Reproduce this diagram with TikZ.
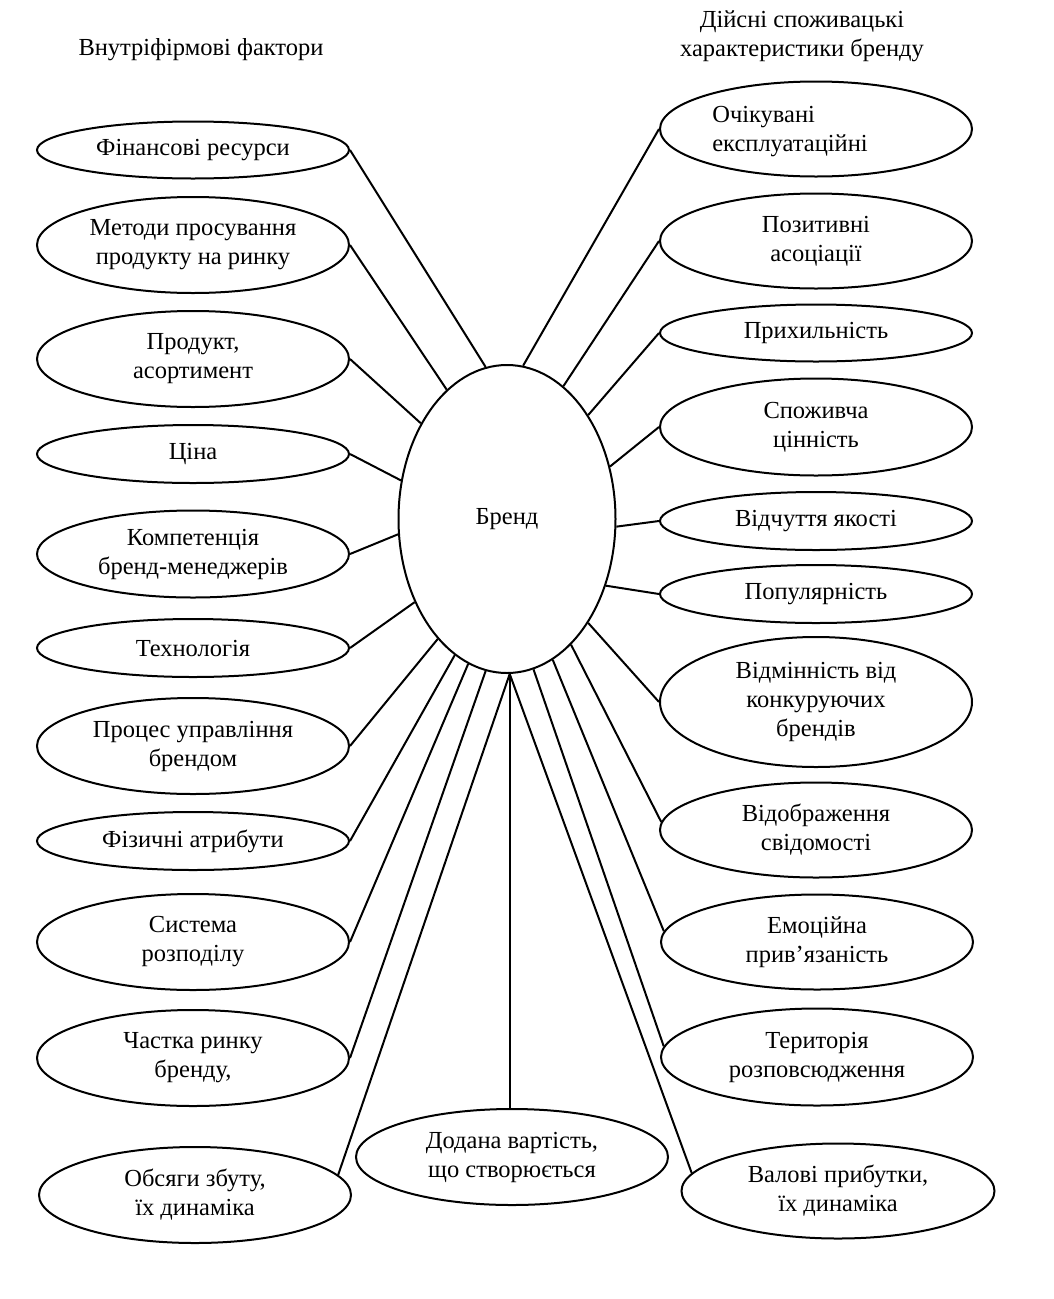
\documentclass[tikz,border=0pt]{standalone}
\usepackage{fontspec}
\setmainfont{Liberation Serif}
\usetikzlibrary{shapes.geometric}
\begin{document}
\begin{tikzpicture}[x=1pt,y=-1pt,
  every node/.style={font=\fontsize{24.5}{29}\selectfont},
  oval/.style={ellipse, draw, line width=2pt, inner sep=0pt, minimum width=312pt, align=center},
  conn/.style={line width=2pt}]
\useasboundingbox[fill=white] (0,0) rectangle (1053,1299);
% titles
\node (tl) at (201,50) {Внутріфірмові фактори};
\node[align=center] (tr) at (802,36) {Дійсні споживацькі\\характеристики бренду};
% centre
\node[ellipse, draw, line width=2pt, inner sep=0pt, minimum width=217pt, minimum height=308pt] (B) at (507,519) {Бренд};
% left ovals
\node[oval, minimum height=57pt] (fin) at (193,150) {Фінансові ресурси};
\node[oval, minimum height=96pt] (met) at (193,245) {Методи просування\\продукту на ринку};
\node[oval, minimum height=96pt] (prod) at (193,359) {Продукт,\\асортимент};
\node[oval, minimum height=58pt] (cina) at (193,454) {Ціна};
\node[oval, minimum height=87pt] (komp) at (193,554) {Компетенція\\бренд-менеджерів};
\node[oval, minimum height=58pt] (tech) at (193,648) {Технологія};
\node[oval, minimum height=96pt] (proc) at (193,746) {Процес управління\\брендом};
\node[oval, minimum height=58pt] (fiz) at (193,841) {Фізичні атрибути};
\node[oval, minimum height=96pt] (sys) at (193,942) {Система\\розподілу};
\node[oval, minimum height=96pt] (chast) at (193,1058) {Частка ринку\\бренду,};
\node[oval, minimum height=96pt] (obs) at (195,1195) {Обсяги збуту,\\їх динаміка};
% bottom
\node[oval, minimum height=96pt] (dod) at (512,1157) {Додана вартість,\\що створюється};
% right ovals
\node[oval, minimum height=95pt, label={[align=left, xshift=-26pt, yshift=-3pt]center:Очікувані\\експлуатаційні}] (och) at (816,129) {};
\node[oval, minimum height=95pt] (poz) at (816,241) {Позитивні\\асоціації};
\node[oval, minimum height=57pt] (pryh) at (816,333) {Прихильність};
\node[oval, minimum height=97pt] (spoz) at (816,427) {Споживча\\цінність};
\node[oval, minimum height=58pt] (vidch) at (816,521) {Відчуття якості};
\node[oval, minimum height=58pt] (pop) at (816,594) {Популярність};
\node[oval, minimum height=130pt] (vidm) at (816,702) {Відмінність від\\конкуруючих\\брендів};
\node[oval, minimum height=95pt] (vidob) at (816,830) {Відображення\\свідомості};
\node[oval, minimum height=95pt] (emo) at (817,942) {Емоційна\\прив’язаність};
\node[oval, minimum height=97pt] (ter) at (817,1057) {Територія\\розповсюдження};
\node[oval, minimum height=95pt, minimum width=313pt] (val) at (838,1191) {Валові прибутки,\\їх динаміка};
% left connectors
\draw[conn] (fin.east) -- (B.98.9);
\draw[conn] (met.east) -- (B.115.5);
\draw[conn] (prod.east) -- (B.132.2);
\draw[conn] (cina.east) -- (B.160.9);
\draw[conn] (komp.east) -- (B.188.4);
\draw[conn] (tech.east) -- (B.222.4);
\draw[conn] (proc.east) -- (B.240.6);
\draw[conn] (fiz.east) -- (B.249.9);
\draw[conn] (sys.east) -- (B.255.4);
\draw[conn] (chast.east) -- (B.262.1);
\draw[conn] (obs.8) -- (B.-89);
% bottom connector
\draw[conn] (B.-89) -- (B.-89 |- dod.north);
% right connectors
\draw[conn] (B.84) -- (och.west);
\draw[conn] (B.67.3) -- (poz.west);
\draw[conn] (B.52.3) -- (pryh.west);
\draw[conn] (B.27.5) -- (spoz.west);
\draw[conn] (B.-4.8) -- (vidch.west);
\draw[conn] (B.-34.4) -- (pop.west);
\draw[conn] (B.-52.4) -- (vidm.west);
\draw[conn] (B.-63.6) -- (vidob.177);
\draw[conn] (B.-72.4) -- (emo.176.7);
\draw[conn] (B.-80.2) -- (ter.176.7);
\draw[conn] (B.-89) -- (val.173);
\end{tikzpicture}
\end{document}
